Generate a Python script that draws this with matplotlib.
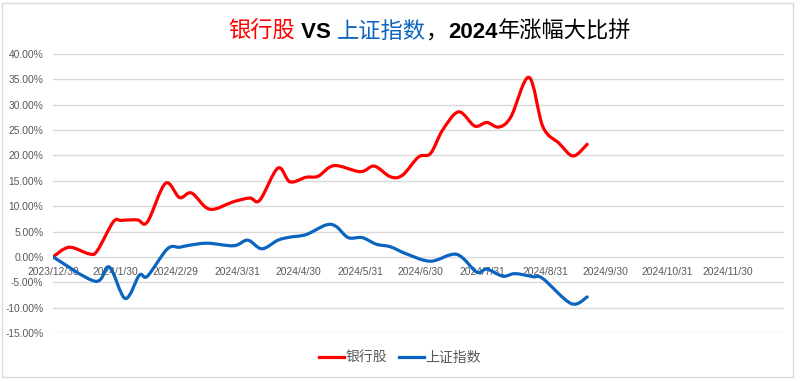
import matplotlib
matplotlib.use("Agg")
import matplotlib.pyplot as plt
import matplotlib.dates as mdates
from matplotlib.path import Path
from matplotlib.patches import PathPatch, Rectangle
from matplotlib.lines import Line2D
import numpy as np
import pandas as pd

# 银行股 readings (date, % change)
bank_dates = ["2023-12-30", "2024-01-07", "2024-01-17", "2024-01-21", "2024-01-29",
              "2024-02-02", "2024-02-10", "2024-02-15", "2024-02-24", "2024-03-02",
              "2024-03-08", "2024-03-17", "2024-03-29", "2024-04-06", "2024-04-11",
              "2024-04-20", "2024-04-26", "2024-05-04", "2024-05-10", "2024-05-18",
              "2024-05-31", "2024-06-07", "2024-06-15", "2024-06-21", "2024-06-29",
              "2024-07-05", "2024-07-11", "2024-07-19", "2024-07-27", "2024-08-02",
              "2024-08-08", "2024-08-14", "2024-08-23", "2024-08-30", "2024-09-07",
              "2024-09-14", "2024-09-21"]
bank_vals = [0.0, 1.9, 0.6, 1.2, 6.9,
             7.2, 7.3, 6.9, 14.5, 11.7,
             12.6, 9.4, 10.9, 11.6, 11.2,
             17.5, 14.8, 15.7, 15.9, 18.0,
             16.8, 17.9, 15.8, 16.1, 19.7,
             20.4, 25.0, 28.6, 25.8, 26.5,
             25.6, 27.6, 35.4, 25.6, 22.4,
             19.9, 22.2]

# 上证指数 readings
sh_dates = ["2023-12-30", "2024-01-20", "2024-01-27", "2024-02-04", "2024-02-11",
            "2024-02-15", "2024-02-25", "2024-03-02", "2024-03-07", "2024-03-16",
            "2024-03-29", "2024-04-05", "2024-04-12", "2024-04-20", "2024-04-26",
            "2024-05-04", "2024-05-14", "2024-05-19", "2024-05-25", "2024-06-01",
            "2024-06-08", "2024-06-15", "2024-06-23", "2024-07-05", "2024-07-18",
            "2024-07-28", "2024-08-02", "2024-08-10", "2024-08-16", "2024-08-25",
            "2024-08-30", "2024-09-13", "2024-09-21"]
sh_vals = [0.0, -4.8, -2.0, -8.2, -3.6,
           -3.8, 1.6, 1.9, 2.3, 2.7,
           2.2, 3.3, 1.6, 3.3, 3.9,
           4.4, 6.3, 6.0, 3.8, 3.8,
           2.5, 2.0, 0.6, -0.85, 0.5,
           -3.0, -2.4, -3.8, -3.3, -3.9,
           -4.3, -9.2, -7.9]

tick_dates = ["2023-12-30", "2024-01-30", "2024-02-29", "2024-03-31", "2024-04-30",
              "2024-05-31", "2024-06-30", "2024-07-31", "2024-08-31", "2024-09-30",
              "2024-10-31", "2024-11-30"]
tick_labels = ["2023/12/30", "2024/1/30", "2024/2/29", "2024/3/31", "2024/4/30",
               "2024/5/31", "2024/6/30", "2024/7/31", "2024/8/31", "2024/9/30",
               "2024/10/31", "2024/11/30"]
y_ticks = [-15, -10, -5, 0, 5, 10, 15, 20, 25, 30, 35, 40]

RED = "#FF0000"
BLUE = "#0A64C0"
GRAY = "#595959"
GRID = "#D9D9D9"
NUM_FONT = ["Liberation Sans", "DejaVu Sans"]
CJK_FONT = ["Noto Sans CJK SC", "DejaVu Sans"]


def smooth_path(xs, ys):
    # Excel-like smoothed line: Catmull-Rom segments as cubic Beziers
    pts = np.column_stack([xs, ys])
    verts = [pts[0]]
    codes = [Path.MOVETO]
    n = len(pts)
    for i in range(n - 1):
        p0 = pts[max(i - 1, 0)]
        p1 = pts[i]
        p2 = pts[i + 1]
        p3 = pts[min(i + 2, n - 1)]
        c1 = p1 + (p2 - p0) / 6.0
        c2 = p2 - (p3 - p1) / 6.0
        verts += [c1, c2, p2]
        codes += [Path.CURVE4] * 3
    return Path(verts, codes)


fig = plt.figure(figsize=(8, 3.81), dpi=100)
fig.patches.append(Rectangle((2 / 800, 4 / 381), 791 / 800, 374 / 381,
                             transform=fig.transFigure, fill=False,
                             edgecolor=GRID, linewidth=1))
ax = fig.add_axes([53 / 800, 1 - 333 / 381, (784 - 53) / 800, (333 - 54) / 381])

for dates, vals, color in [(bank_dates, bank_vals, RED), (sh_dates, sh_vals, BLUE)]:
    xs = mdates.date2num(pd.to_datetime(dates))
    patch = PathPatch(smooth_path(xs, np.array(vals)), facecolor="none",
                      edgecolor=color, linewidth=2.3, capstyle="round",
                      joinstyle="round", zorder=3)
    ax.add_patch(patch)

ax.set_xlim(mdates.date2num(pd.Timestamp("2023-12-30")),
            mdates.date2num(pd.Timestamp("2024-12-28")))
ax.set_ylim(-15, 40)

ax.set_yticks(y_ticks)
ax.set_yticklabels([f"{v:.2f}%" for v in y_ticks])
ax.set_xticks(mdates.date2num(pd.to_datetime(tick_dates)))
ax.set_xticklabels(tick_labels)
ax.grid(axis="y", color=GRID, linewidth=1)
ax.set_axisbelow(True)
for s in ax.spines.values():
    s.set_visible(False)
ax.spines["bottom"].set_position(("data", 0))
ax.tick_params(axis="both", length=0, colors=GRAY)
ax.tick_params(axis="y", pad=7)
ax.tick_params(axis="x", pad=7)
for lab in ax.get_xticklabels() + ax.get_yticklabels():
    lab.set_family(NUM_FONT)
    lab.set_fontsize(7.4)

# title built from coloured pieces
pieces = [("银行股", RED, "normal", CJK_FONT),
          (" VS ", "black", "bold", NUM_FONT),
          ("上证指数", BLUE, "normal", CJK_FONT),
          ("，", "black", "normal", CJK_FONT),
          ("2024", "black", "bold", NUM_FONT),
          ("年涨幅大比拼", "black", "normal", CJK_FONT)]
base_y = 1 - 38 / 381
last = None
for text, color, weight, fam in pieces:
    if last is None:
        last = fig.text(228 / 800, base_y, text, color=color, fontsize=16,
                        fontweight=weight, family=fam, va="baseline", ha="left")
    else:
        last = ax.annotate(text, xy=(1, base_y), xycoords=(last, "figure fraction"),
                           color=color, fontsize=16, fontweight=weight, family=fam,
                           va="baseline", ha="left", annotation_clip=False)

handles = [Line2D([], [], color=RED, linewidth=2.3),
           Line2D([], [], color=BLUE, linewidth=2.3)]
leg = fig.legend(handles, ["银行股", "上证指数"], loc="center",
                 bbox_to_anchor=(0.5, 1 - 358 / 381), ncol=2, frameon=False,
                 handlelength=1.8, handletextpad=0.1, columnspacing=0.9,
                 prop={"family": CJK_FONT, "size": 10})
for t in leg.get_texts():
    t.set_color(GRAY)

fig.savefig("out.png", dpi=100)
